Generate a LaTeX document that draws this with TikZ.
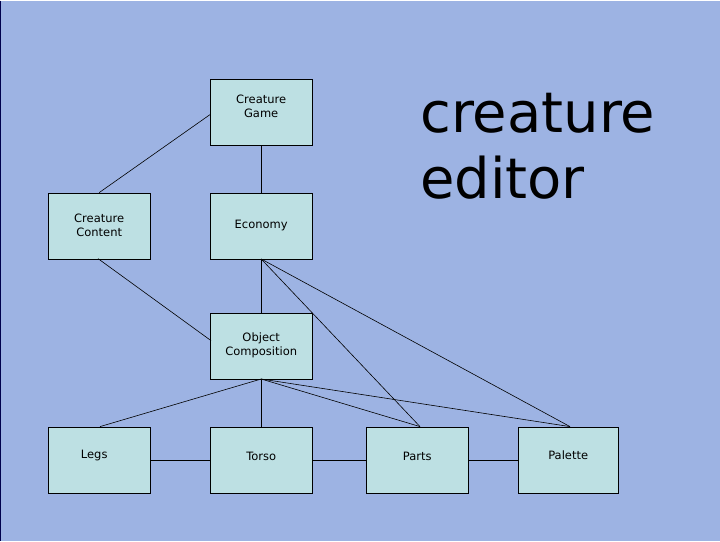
\documentclass[tikz,border=0pt]{standalone}
\usepackage{fontspec}
\setmainfont{DejaVu Sans}
\definecolor{bg}{HTML}{9DB3E3}
\definecolor{boxfill}{HTML}{BDE0E3}
\begin{document}
\begin{tikzpicture}[x=1pt,y=-1pt,
  box/.style={draw=black,fill=boxfill,minimum width=102pt,minimum height=66pt,inner sep=0pt,anchor=north west,align=center,font=\fontsize{11.5}{14}\selectfont},
  conn/.style={draw=black,line width=0.6pt}]
\fill[bg] (0,0) rectangle (720,540);
\draw[line width=1.2pt,black!70!blue] (0.6,0) -- (0.6,540);
\useasboundingbox (0,0) rectangle (720,540);
\node[box] (game) at (210,78) {Creature\\Game\\[-2pt]};
\node[box] (content) at (48,192) {Creature\\Content};
\node[box] (eco) at (210,192) {Economy};
\node[box] (obj) at (210,312) {Object\\Composition};
\node[box] (legs) at (48,426) {\hspace*{-10pt}Legs\\[-4pt]};
\node[box] (torso) at (210,426) {Torso\\[-8pt]};
\node[box] (parts) at (366,426) {Parts\\[-8pt]};
\node[box,minimum width=100pt] (pal) at (518,426) {Palette\\[-4pt]};
\node[anchor=north west,align=left,font=\fontsize{56}{66}\selectfont,inner sep=0pt] (title) at (420,92) {creature\\editor};
\coordinate (gl) at (210,114);
\coordinate (ol) at (211,340);
\coordinate (cb) at (98,258);
\coordinate (lt) at (100,426);
\coordinate (pt) at (420,426);
\coordinate (pa) at (570,426);
\draw[conn] (content.north) -- (gl);
\draw[conn] (game.south) -- (eco.north);
\draw[conn] (cb) -- (ol);
\draw[conn] (eco.south) -- (obj.north);
\draw[conn] (eco.south) -- (pt);
\draw[conn] (eco.south) -- (pa);
\draw[conn] (obj.south) -- (lt);
\draw[conn] (obj.south) -- (torso.north);
\draw[conn] (obj.south) -- (pt);
\draw[conn] (obj.south) -- (pa);
\draw[conn] (legs.east) -- (torso.west);
\draw[conn] (torso.east) -- (parts.west);
\draw[conn] (parts.east) -- (pal.west);
\end{tikzpicture}
\end{document}
